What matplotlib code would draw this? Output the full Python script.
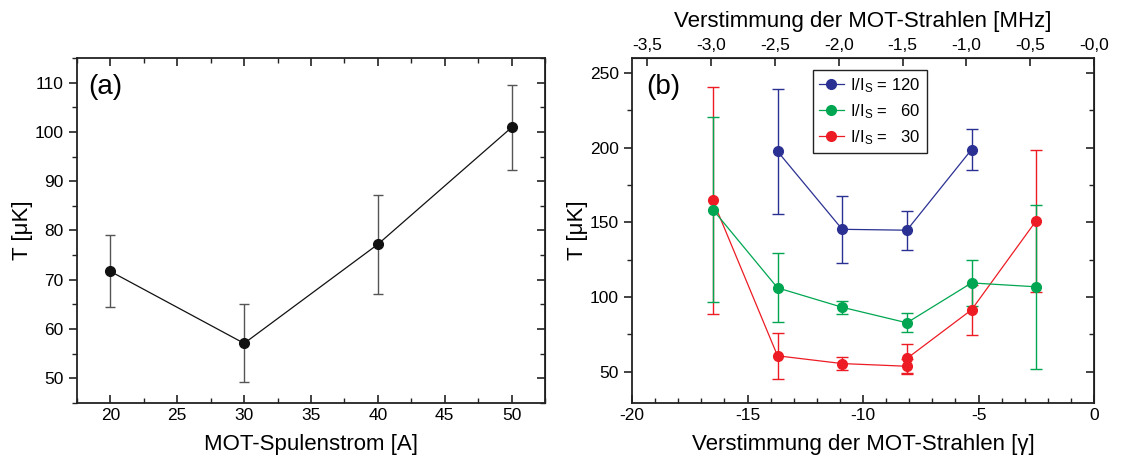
import matplotlib
matplotlib.use("Agg")
import matplotlib.pyplot as plt
from matplotlib.ticker import MultipleLocator, FixedLocator, FixedFormatter

plt.rcParams['font.family'] = ['Liberation Sans', 'DejaVu Sans']
plt.rcParams['mathtext.fontset'] = 'custom'
plt.rcParams['mathtext.rm'] = 'Liberation Sans'
plt.rcParams['mathtext.it'] = 'Liberation Sans'
plt.rcParams['axes.unicode_minus'] = False

# ---- data panel (a)
current_A = [20, 30, 40, 50]
temp_a = [71.7, 57.1, 77.2, 100.9]
err_a = [7.3, 7.9, 10.1, 8.6]

# ---- data panel (b)
x_blue = [-13.7, -10.9, -8.1, -5.3]
y_blue = [197.5, 145.3, 144.7, 198.7]
e_blue = [42.0, 22.5, 13.0, 14.0]

x_green = [-16.5, -13.7, -10.9, -8.1, -5.3, -2.5]
y_green = [158.5, 106.1, 93.1, 82.7, 109.4, 106.8]
e_green = [62.0, 23.0, 4.5, 6.4, 15.2, 55.0]

x_red = [-16.5, -13.7, -10.9, -8.1, -8.1, -5.3, -2.5]
y_red = [164.7, 60.6, 55.4, 53.6, 58.8, 91.4, 151.1]
e_red = [75.9, 15.2, 4.5, 5.0, 9.8, 16.6, 47.5]

mhz_ticks = [-3.5, -3.0, -2.5, -2.0, -1.5, -1.0, -0.5, 0.0]
mhz_labels = ['-3,5', '-3,0', '-2,5', '-2,0', '-1,5', '-1,0', '-0,5', '-0,0']
gamma_to_mhz = 0.181

fig = plt.figure(figsize=(11.22, 4.67), dpi=100)
ax1 = fig.add_axes([77/1122, 1-403/467, (545-77)/1122, (403-58)/467])
ax2 = fig.add_axes([632/1122, 1-403/467, (1094-632)/1122, (403-58)/467])

def style(ax):
    for s in ax.spines.values():
        s.set_linewidth(1.3)
        s.set_color('#222222')
    ax.tick_params(axis='both', which='both', labelsize=12.5, color='#222222')
    ax.tick_params(axis='x', which='both', direction='in', top=True, bottom=True)
    ax.tick_params(axis='y', which='both', direction='out', left=True, right=False)
    ax.tick_params(which='major', length=6, width=1.2)
    ax.tick_params(which='minor', length=3.5, width=1.0)

# panel (a)
ax1.errorbar(current_A, temp_a, yerr=err_a, color='#111111', ecolor='#555555',
             elinewidth=1.0, capsize=3.5, capthick=1.0, lw=0.9, marker='o', ms=7)
ax1.set_xlim(17.5, 52.5)
ax1.set_ylim(45, 115)
ax1.xaxis.set_major_locator(MultipleLocator(5))
ax1.xaxis.set_minor_locator(MultipleLocator(2.5))
ax1.yaxis.set_major_locator(MultipleLocator(10))
ax1.yaxis.set_minor_locator(MultipleLocator(5))
style(ax1)
ax1r = ax1.secondary_yaxis('right')
ax1r.yaxis.set_major_locator(MultipleLocator(10))
ax1r.yaxis.set_minor_locator(MultipleLocator(5))
ax1r.tick_params(which='both', direction='in', labelright=False, color='#222222')
ax1r.tick_params(which='major', length=6, width=1.2)
ax1r.tick_params(which='minor', length=3.5, width=1.0)
ax1.set_xlabel('MOT-Spulenstrom [A]', fontsize=16, labelpad=8)
ax1.set_ylabel('T [μK]', fontsize=16, labelpad=1)
ax1.text(0.025, 0.955, '(a)', transform=ax1.transAxes, fontsize=20, va='top', ha='left')

# panel (b)
blue, green, red = '#2b3192', '#00a651', '#ed1c24'
ax2.errorbar(x_red, y_red, yerr=e_red, color=red, ecolor=red, elinewidth=1.0,
             capsize=4, capthick=1.0, lw=0.9, marker='o', ms=7,
             label=r'I/I$_\mathrm{S}$ =   30')
ax2.errorbar(x_green, y_green, yerr=e_green, color=green, ecolor=green, elinewidth=1.0,
             capsize=4, capthick=1.0, lw=0.9, marker='o', ms=7,
             label=r'I/I$_\mathrm{S}$ =   60')
ax2.errorbar(x_blue, y_blue, yerr=e_blue, color=blue, ecolor=blue, elinewidth=1.0,
             capsize=4, capthick=1.0, lw=0.9, marker='o', ms=7,
             label=r'I/I$_\mathrm{S}$ = 120')
ax2.set_xlim(-20, 0)
ax2.set_ylim(29, 260)
ax2.xaxis.set_major_locator(MultipleLocator(5))
ax2.xaxis.set_minor_locator(MultipleLocator(1))
ax2.yaxis.set_major_locator(MultipleLocator(50))
ax2.yaxis.set_minor_locator(MultipleLocator(25))
style(ax2)
ax2.tick_params(axis='x', which='both', top=False)
ax2r = ax2.secondary_yaxis('right')
ax2r.yaxis.set_major_locator(MultipleLocator(50))
ax2r.yaxis.set_minor_locator(MultipleLocator(25))
ax2r.tick_params(which='both', direction='in', labelright=False, color='#222222')
ax2r.tick_params(which='major', length=6, width=1.2)
ax2r.tick_params(which='minor', length=3.5, width=1.0)
top = ax2.secondary_xaxis('top', functions=(lambda g: g * gamma_to_mhz,
                                            lambda m: m / gamma_to_mhz))
top.xaxis.set_major_locator(FixedLocator(mhz_ticks))
top.xaxis.set_major_formatter(FixedFormatter(mhz_labels))
top.tick_params(direction='in', length=6, width=1.2, labelsize=12.5, color='#222222')
top.set_xlabel('Verstimmung der MOT-Strahlen [MHz]', fontsize=16, labelpad=8)
ax2.set_xlabel('Verstimmung der MOT-Strahlen [γ]', fontsize=16, labelpad=8)
ax2.set_ylabel('T [μK]', fontsize=16, labelpad=1)
ax2.text(0.03, 0.955, '(b)', transform=ax2.transAxes, fontsize=20, va='top', ha='left')

handles, labels = ax2.get_legend_handles_labels()
line_handles = [h[0] for h in handles][::-1]
leg = ax2.legend(line_handles, labels[::-1], loc='upper left',
                 bbox_to_anchor=((813-632)/(1094-632), 1-(70-58)/(403-58)),
                 fontsize=12, frameon=True, fancybox=False, borderaxespad=0,
                 handlelength=1.5, handletextpad=0.4, labelspacing=0.45,
                 borderpad=0.35, edgecolor='#222222', framealpha=1)
leg.get_frame().set_linewidth(1.0)

fig.savefig('out.png', dpi=100)
